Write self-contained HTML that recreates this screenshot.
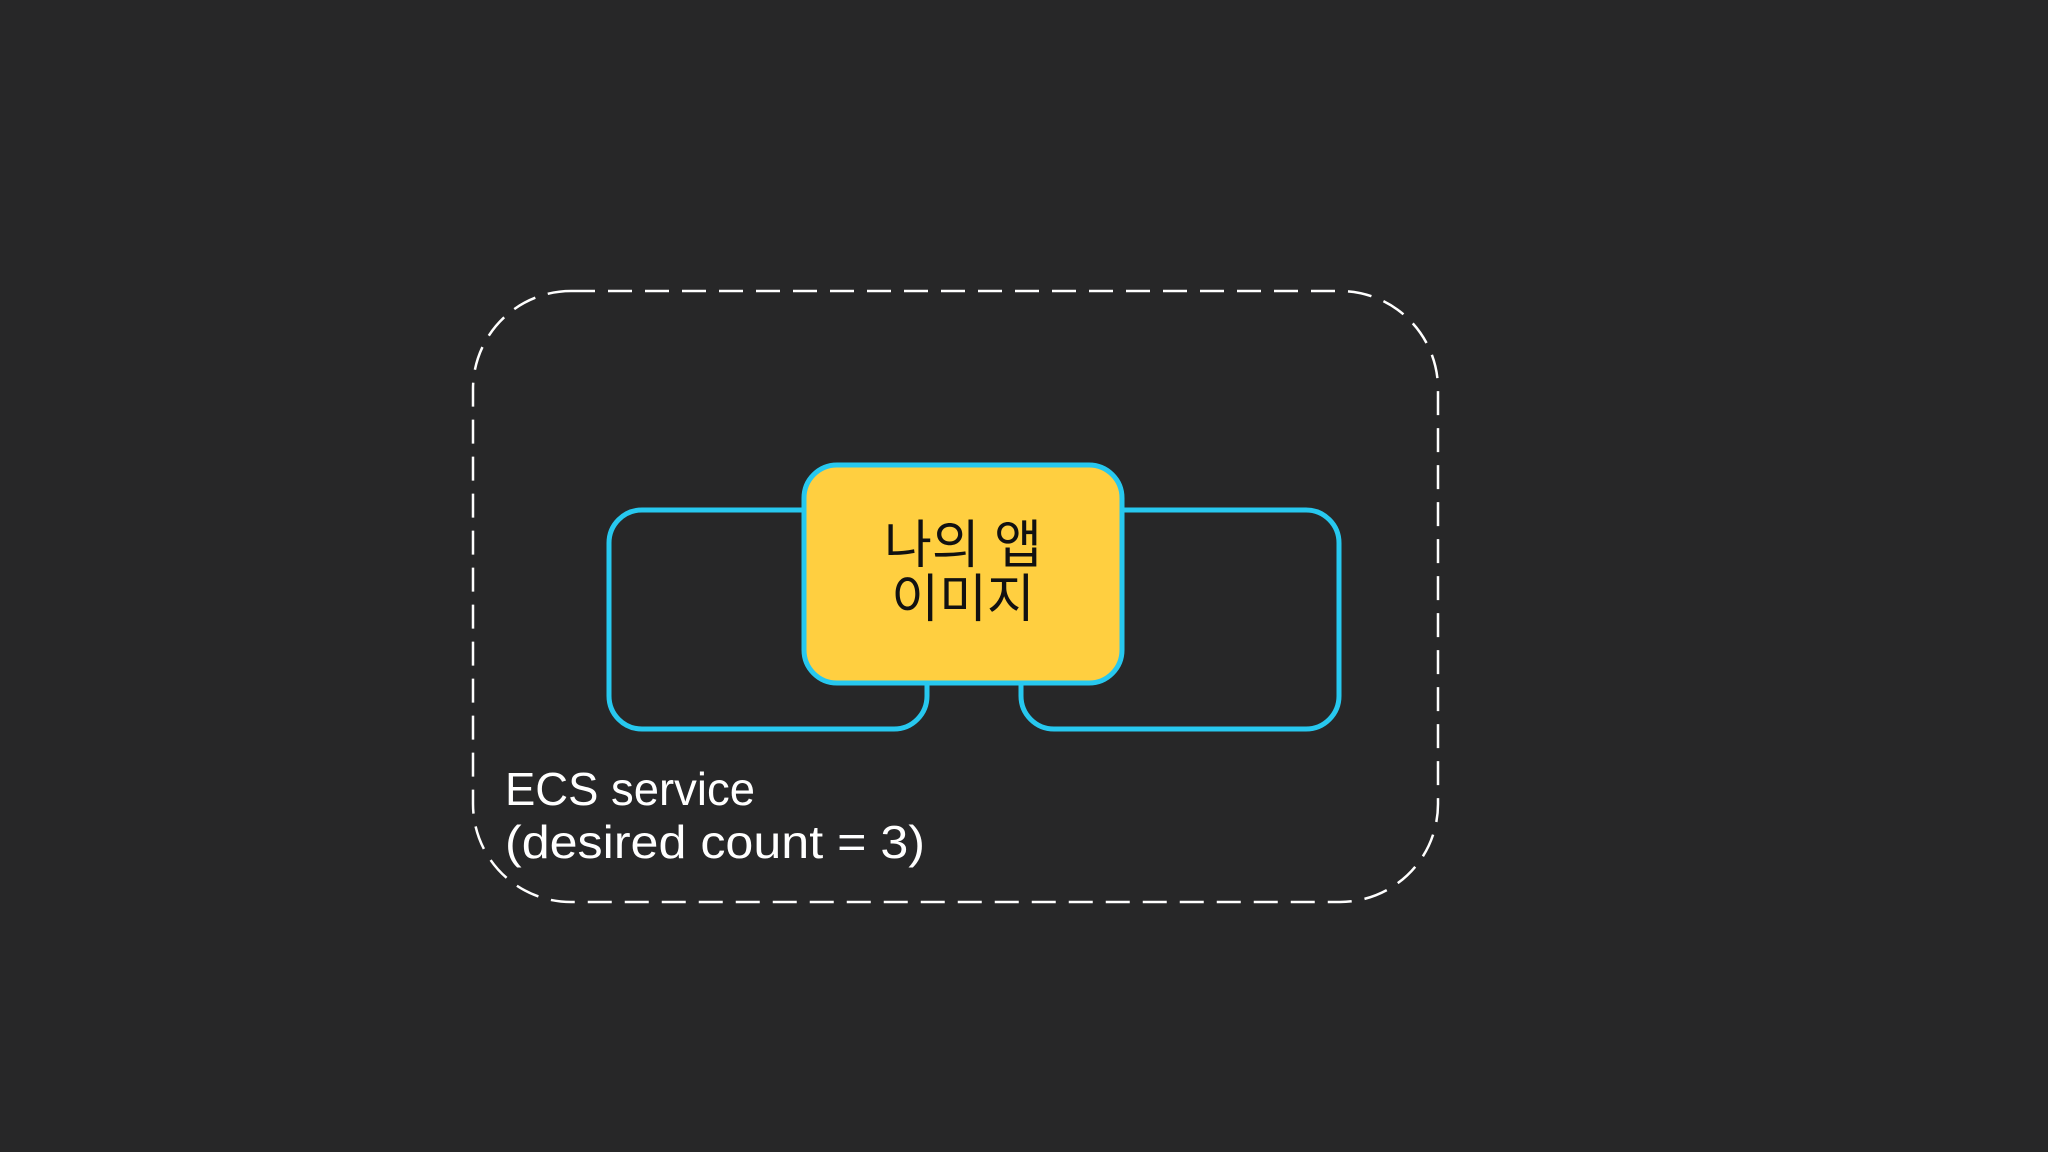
<!DOCTYPE html>
<html><head><meta charset="utf-8"><style>
html,body{margin:0;padding:0;background:#272728;}
svg{display:block}
</style></head><body>
<svg width="2048" height="1152" viewBox="0 0 2048 1152" xmlns="http://www.w3.org/2000/svg">
<rect width="2048" height="1152" fill="#272728"/>
<rect x="473" y="291" width="965" height="611" rx="98" ry="98" fill="none" stroke="#ffffff" stroke-width="2.5" stroke-dasharray="24 13"/>
<rect x="609" y="510" width="318" height="219" rx="33" fill="#272728" stroke="#27c8ef" stroke-width="5"/>
<rect x="1021" y="510" width="318" height="219" rx="33" fill="#272728" stroke="#27c8ef" stroke-width="5"/>
<rect x="804" y="465" width="318" height="218" rx="33" fill="#ffcf40" stroke="#27c8ef" stroke-width="5"/>
<text x="963" y="563" font-family="'Liberation Sans','Noto Sans CJK KR',sans-serif" font-size="52" fill="#111" text-anchor="middle">나의 앱</text>
<text x="963" y="617" font-family="'Liberation Sans','Noto Sans CJK KR',sans-serif" font-size="52" fill="#111" text-anchor="middle">이미지</text>
<text x="505" y="805" font-family="'Liberation Sans','Noto Sans CJK KR',sans-serif" font-size="46" fill="#ffffff" textLength="250" lengthAdjust="spacingAndGlyphs">ECS service</text>
<text x="505" y="858" font-family="'Liberation Sans','Noto Sans CJK KR',sans-serif" font-size="46" fill="#ffffff" textLength="420" lengthAdjust="spacingAndGlyphs">(desired count = 3)</text>
</svg>
</body></html>
